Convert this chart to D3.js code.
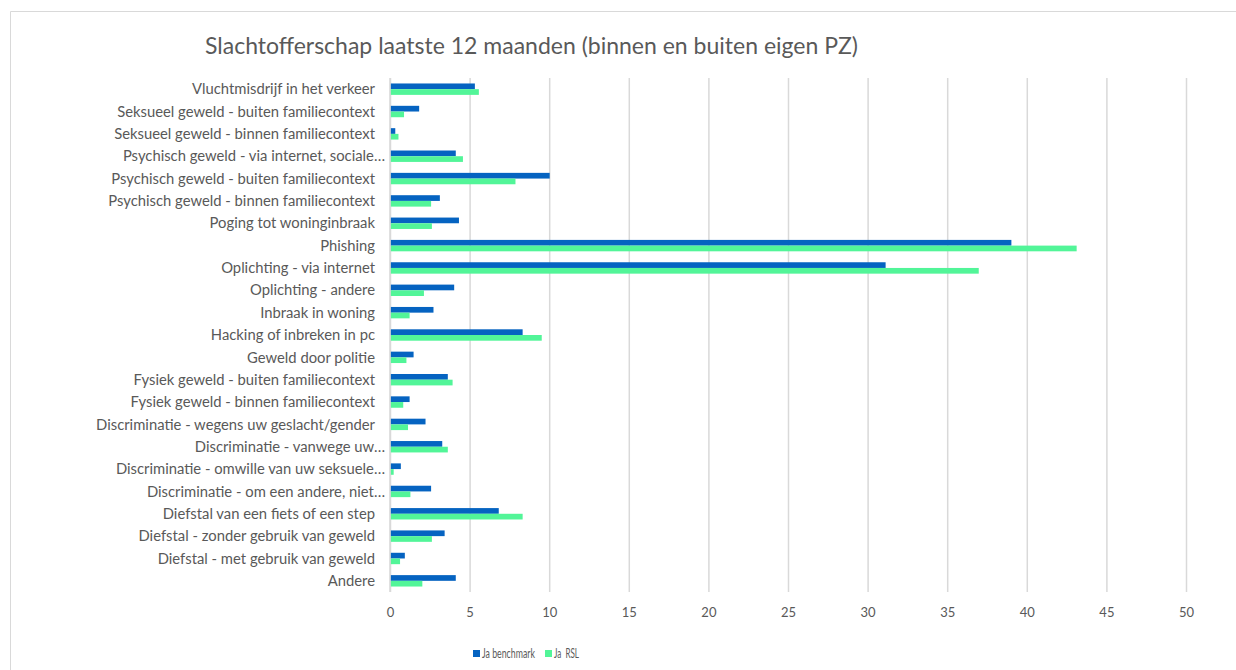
<!DOCTYPE html>
<html>
<head>
<meta charset="utf-8">
<script src="https://d3js.org/d3.v7.min.js"></script>
<style>
  body { margin: 0; background: #fff; }
  svg { display: block; }
  .lbl { font-family: Lato, "Open Sans", sans-serif; font-size: 14.8px; fill: #595959; }
  .tick text { font-family: Lato, sans-serif; font-size: 13px; fill: #595959; }
</style>
</head>
<body>
<svg id="chart"></svg>
<script>
// categories, top to bottom as drawn
const categories = [
    "Vluchtmisdrijf in het verkeer",
    "Seksueel geweld - buiten familiecontext",
    "Seksueel geweld - binnen familiecontext",
    "Psychisch geweld - via internet, sociale...",
    "Psychisch geweld - buiten familiecontext",
    "Psychisch geweld - binnen familiecontext",
    "Poging tot woninginbraak",
    "Phishing",
    "Oplichting - via internet",
    "Oplichting - andere",
    "Inbraak in woning",
    "Hacking of inbreken in pc",
    "Geweld door politie",
    "Fysiek geweld - buiten familiecontext",
    "Fysiek geweld - binnen familiecontext",
    "Discriminatie - wegens uw geslacht/gender",
    "Discriminatie - vanwege uw...",
    "Discriminatie - omwille van uw seksuele...",
    "Discriminatie - om een andere, niet...",
    "Diefstal van een fiets of een step",
    "Diefstal - zonder gebruik van geweld",
    "Diefstal - met gebruik van geweld",
    "Andere"
]
const benchmark = [5.3, 1.8, 0.3, 4.1, 10.0, 3.1, 4.3, 39.0, 31.1, 4.0, 2.7, 8.3, 1.45, 3.6, 1.2, 2.2, 3.25, 0.65, 2.55, 6.8, 3.4, 0.9, 4.1]
const rsl = [5.55, 0.85, 0.5, 4.55, 7.85, 2.55, 2.6, 43.1, 36.95, 2.1, 1.2, 9.5, 1.0, 3.9, 0.8, 1.1, 3.6, 0.2, 1.25, 8.3, 2.6, 0.6, 2.0]
const series = ["Ja benchmark", "Ja  RSL"]
const colors = ["#0563c1", "#52f598"]
const xTicks = [0, 5, 10, 15, 20, 25, 30, 35, 40, 45, 50]
const title = "Slachtofferschap laatste 12 maanden (binnen en buiten eigen PZ)"

const W = 1236, H = 670
const svg = d3.select("#chart").attr("width", W).attr("height", H)

// chart frame (only top & left edges visible in the crop)
svg.append("path")
    .attr("d", "M10.5," + H + "V11.5H" + W)
    .attr("fill", "none")
    .attr("stroke", "#d9d9d9")
    .attr("stroke-width", 1)

svg.append("text")
    .attr("x", 205).attr("y", 54)
    .attr("font-family", "Lato, 'Open Sans', sans-serif")
    .attr("font-size", 22.5)
    .attr("fill", "#595959")
    .attr("textLength", 653)
    .attr("lengthAdjust", "spacingAndGlyphs")
    .text(title)

const plotL = 390, plotR = 1186, plotT = 78, plotB = 592

const x = d3.scaleLinear().domain([0, 50]).range([plotL, plotR])
const y = d3.scaleBand().domain(categories).range([plotT, plotB]).padding(0)
const y1 = d3.scaleBand().domain(series).range([0, y.bandwidth()]).paddingInner(0).paddingOuter(0.96)

// gridlines
svg.append("g")
    .attr("transform", "translate(0," + plotB + ")")
    .call(d3.axisBottom(x).tickValues(xTicks).tickSize(-(plotB - plotT)).tickFormat(""))
    .call(g => g.select(".domain").remove())
    .call(g => g.selectAll("line").attr("stroke", "#d9d9d9").attr("stroke-width", 1.5))

// tick labels
svg.append("g")
    .attr("transform", "translate(0," + (plotB + 10) + ")")
    .call(d3.axisBottom(x).tickValues(xTicks).tickSize(0).tickPadding(6))
    .call(g => g.select(".domain").remove())

const rows = svg.append("g").selectAll("g")
    .data(categories)
    .enter().append("g")
    .attr("transform", d => "translate(0," + y(d) + ")")

rows.selectAll("rect")
    .data((d, i) => [benchmark[i], rsl[i]].map((v, k) => ({ s: series[k], v: v, c: colors[k] })))
    .enter().append("rect")
    .attr("x", x(0) + 0.5)
    .attr("y", d => y1(d.s))
    .attr("height", y1.bandwidth())
    .attr("width", d => x(d.v) - x(0))
    .attr("fill", d => d.c)

// category labels
svg.append("g").selectAll("text")
    .data(categories)
    .enter().append("text")
    .attr("class", "lbl")
    .attr("x", d => d.endsWith("...") ? 385 : 375)
    .attr("y", d => y(d) + y.bandwidth() / 2)
    .attr("dy", "0.35em")
    .attr("text-anchor", "end")
    .text(d => d.endsWith("...") ? d.slice(0, -3) + "\u2026" : d)

// vertical axis line
svg.append("line")
    .attr("x1", plotL).attr("x2", plotL)
    .attr("y1", plotT).attr("y2", plotB)
    .attr("stroke", "#d9d9d9").attr("stroke-width", 1.5)

// legend (condensed look: squeeze text horizontally to the widths in the picture)
const legend = svg.append("g")
const lx = [473, 545]
const lw = [53, 25]
series.forEach((s, i) => {
    legend.append("rect").attr("x", lx[i]).attr("y", 650).attr("width", 7).attr("height", 7).attr("fill", colors[i])
    const g = legend.append("g")
    const t = g.append("text")
        .attr("font-family", "Lato, sans-serif")
        .attr("font-size", 13.5)
        .attr("fill", "#595959")
        .attr("xml:space", "preserve")
        .text(s)
    const sx = lw[i] / t.node().getComputedTextLength()
    g.attr("transform", "translate(" + (lx[i] + 9) + ",658) scale(" + sx + ",1)")
})
</script>
</body>
</html>
